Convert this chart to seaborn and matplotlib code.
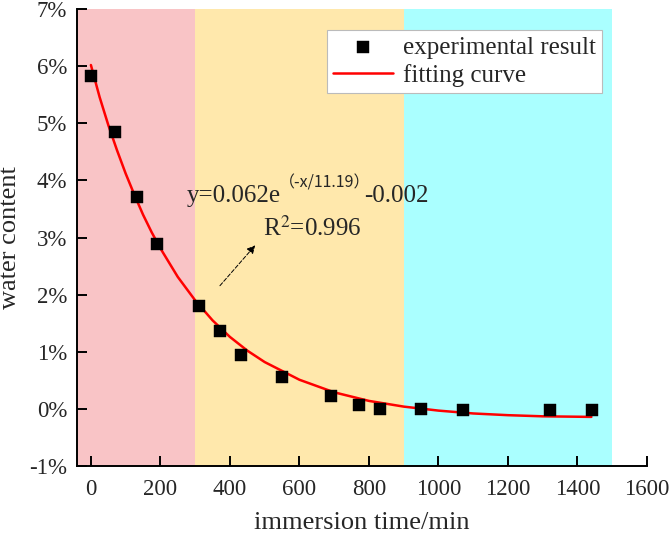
import numpy as np
import pandas as pd
import matplotlib
matplotlib.use("Agg")
import matplotlib.pyplot as plt
import seaborn as sns

# measured points (time in min, water content in %)
time_min = [0, 70, 132, 191, 310, 371, 431, 550, 692, 771, 831, 951, 1071, 1320, 1441]
water_pct = [5.82, 4.84, 3.71, 2.89, 1.81, 1.37, 0.95, 0.56, 0.23, 0.07, 0.0, 0.0, -0.02, -0.02, -0.02]

# fitting curve
curve_x = [0, 25, 50, 75, 100, 125, 150, 175, 200, 250, 300, 350, 400, 450, 500,
           600, 700, 800, 900, 1000, 1100, 1200, 1300, 1440]
curve_y = [6.02, 5.46, 4.97, 4.53, 4.12, 3.75, 3.40, 3.09, 2.81, 2.31, 1.90, 1.55, 1.26, 1.02, 0.82,
           0.51, 0.29, 0.14, 0.04, -0.03, -0.08, -0.11, -0.13, -0.14]

# background stages
stage_edges = [-40, 300, 900, 1500]
stage_colors = ["#F9C4C6", "#FFE8AC", "#AAFFFF"]

y_ticks = [-1, 0, 1, 2, 3, 4, 5, 6, 7]
x_ticks = [0, 200, 400, 600, 800, 1000, 1200, 1400, 1600]

sns.set_style("ticks")
plt.rcParams['font.family'] = ['Liberation Serif', 'Noto Sans CJK SC', 'DejaVu Sans']
plt.rcParams['mathtext.fontset'] = 'stix'

fig = plt.figure(figsize=(6.69, 5.38), dpi=100)
ax = fig.add_axes([0.1151, 0.1338, 0.852, 0.8494])

for i, c in enumerate(stage_colors):
    ax.axvspan(stage_edges[i], stage_edges[i + 1], color=c, lw=0, zorder=0)

pts = pd.DataFrame({"t": time_min, "w": water_pct})
fit = pd.DataFrame({"t": curve_x, "w": curve_y})

sns.lineplot(data=fit, x="t", y="w", ax=ax, color="#FF0000", lw=1.8,
             label="fitting curve", zorder=3, legend=False)
sns.scatterplot(data=pts, x="t", y="w", ax=ax, marker="s", s=68, color="black",
                edgecolor="black", linewidth=0.3, label="experimental result",
                zorder=4, legend=False)

ax.set_xlim(-40, 1600)
ax.set_ylim(-1, 7)
ax.set_xticks(x_ticks)
ax.set_yticks(y_ticks)
ax.set_yticklabels([f"{v}%" for v in y_ticks])
ax.tick_params(direction="in", length=7, width=1.4, labelsize=16.5, color="black")
ax.tick_params(axis="x", pad=9)
ax.tick_params(axis="y", pad=7)
for s in ["top", "right"]:
    ax.spines[s].set_visible(False)
for s in ["left", "bottom"]:
    ax.spines[s].set_linewidth(1.4)
    ax.spines[s].set_color("black")

ax.set_xlabel("immersion time/min", fontsize=19, labelpad=9)
ax.set_ylabel("water content", fontsize=19, labelpad=6)

h, l = ax.get_legend_handles_labels()
order = [l.index("experimental result"), l.index("fitting curve")]
leg = ax.legend([h[i] for i in order], [l[i] for i in order],
                loc="upper right", bbox_to_anchor=(0.921, 0.954), fontsize=18,
                frameon=True, fancybox=False, framealpha=1, edgecolor="#bbbbbb",
                handlelength=2.4, handletextpad=0.4, borderpad=0.25,
                labelspacing=0.2, borderaxespad=0)
leg.get_frame().set_linewidth(0.8)

# fit equation
ax.text(277, 3.72, "y=0.062e", fontsize=18, va="center", ha="left")
ax.text(541, 3.95, "（-x/11.19）", fontsize=11.5, va="center", ha="left",
        family=['Noto Sans CJK SC', 'Liberation Serif'])
ax.text(787, 3.72, "-0.002", fontsize=18, va="center", ha="left")
ax.text(494, 3.16, "R$^2$=0.996", fontsize=18, va="center", ha="left")
ax.annotate("", xy=(478, 2.9), xytext=(366, 2.12),
            arrowprops=dict(arrowstyle="-|>", color="black", lw=0.7,
                            linestyle=(0, (4, 2)), mutation_scale=12))

fig.savefig("out.png", dpi=100)
